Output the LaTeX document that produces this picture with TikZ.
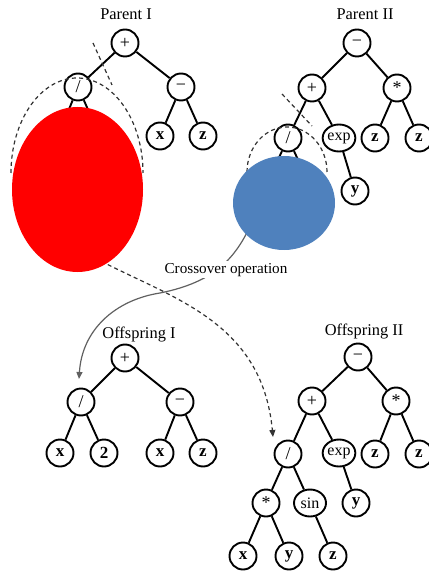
\documentclass[tikz,border=0pt]{standalone}
\usepackage{fontspec}
\setmainfont{Liberation Serif}
\usetikzlibrary{arrows.meta, shapes.geometric}

\definecolor{maskred}{RGB}{255,0,0}
\definecolor{maskblue}{RGB}{79,129,189}

\begin{document}
\begin{tikzpicture}[
  x=0.5pt, y=-0.5pt,
  every node/.style = {font=\fontsize{9}{10}\selectfont},
  op/.style = {
    circle,
    draw,
    line width=0.95pt,
    minimum size=13.5pt,
    inner sep=0pt
  },
  leaf/.style = {
    op,
    font=\fontsize{8.5}{10}\selectfont\bfseries
  },
  fn/.style = {
    ellipse,
    draw,
    line width=0.95pt,
    minimum height=13.5pt,
    minimum width=16pt,
    inner sep=0pt,
    font=\fontsize{8}{9.6}\selectfont
  },
  title/.style = {anchor=base, font=\fontsize{8.2}{10}\selectfont},
  edge/.style = {line width=0.95pt},
  cut/.style = {
    dash pattern=on 2pt off 1.6pt,
    line width=0.6pt,
    black!80
  },
  move/.style = {
    -{Triangle[length=3.5pt,width=3pt]},
    line width=0.6pt
  },
  mask/.style = {ellipse, inner sep=0pt}
]
\useasboundingbox (0,0) rectangle (428,571);

% parent I
\node[title] (t1) at (126,19.5) {Parent I};
\node[op] (p1r) at (125,43) {+};
\node[op] (p1a) at (78,87) {/};
\node[op] (p1b) at (181,87) {−};
\node[leaf] (p1c) at (160,136) {x};
\node[leaf] (p1d) at (203,136) {z};
\coordinate (p1h1) at (57,139);
\coordinate (p1h2) at (101,139);
\draw[edge] (p1r) -- (p1a);
\draw[edge] (p1r) -- (p1b);
\draw[edge] (p1b) -- (p1c);
\draw[edge] (p1b) -- (p1d);
\draw[edge] (p1a) -- (p1h1);
\draw[edge] (p1a) -- (p1h2);

% parent II
\node[title] (t2) at (365,19.5) {Parent II};
\node[op] (p2r) at (357,43) {−};
\node[op] (p2a) at (312,88) {+};
\node[op] (p2b) at (397,88) {*};
\node[op] (p2c) at (288,138) {/};
\node[fn] (p2d) at (339,138) {exp};
\node[leaf] (p2e) at (375,138) {z};
\node[leaf] (p2f) at (419,138) {z};
\node[leaf] (p2g) at (355,191) {y};
\coordinate (p2h1) at (265,188);
\coordinate (p2h2) at (311,188);
\draw[edge] (p2r) -- (p2a);
\draw[edge] (p2r) -- (p2b);
\draw[edge] (p2a) -- (p2c);
\draw[edge] (p2a) -- (p2d);
\draw[edge] (p2b) -- (p2e);
\draw[edge] (p2b) -- (p2f);
\draw[edge] (p2d) -- (p2g);
\draw[edge] (p2c) -- (p2h1);
\draw[edge] (p2c) -- (p2h2);

% offspring I
\node[title] (t3) at (139,338) {Offspring I};
\node[op] (o1r) at (125,358) {+};
\node[op] (o1a) at (81,402) {/};
\node[op] (o1b) at (180,402) {−};
\node[leaf] (o1c) at (60,453) {x};
\node[leaf] (o1d) at (104,453) {2};
\node[leaf] (o1e) at (160,453) {x};
\node[leaf] (o1f) at (203,453) {z};
\draw[edge] (o1r) -- (o1a);
\draw[edge] (o1r) -- (o1b);
\draw[edge] (o1a) -- (o1c);
\draw[edge] (o1a) -- (o1d);
\draw[edge] (o1b) -- (o1e);
\draw[edge] (o1b) -- (o1f);

% offspring II
\node[title] (t4) at (364,335) {Offspring II};
\node[op] (o2r) at (358,357) {−};
\node[op] (o2a) at (312,401) {+};
\node[op] (o2b) at (396,401) {*};
\node[op] (o2c) at (288,454) {/};
\node[fn] (o2d) at (339,453) {exp};
\node[leaf] (o2e) at (375,454) {z};
\node[leaf] (o2f) at (419,454) {z};
\node[op] (o2g) at (266,503) {*};
\node[fn] (o2h) at (310,503) {sin};
\node[leaf] (o2i) at (356,503) {y};
\node[leaf] (o2j) at (243,556) {x};
\node[leaf] (o2k) at (289,556) {y};
\node[leaf] (o2l) at (333,556) {z};
\draw[edge] (o2r) -- (o2a);
\draw[edge] (o2r) -- (o2b);
\draw[edge] (o2a) -- (o2c);
\draw[edge] (o2a) -- (o2d);
\draw[edge] (o2b) -- (o2e);
\draw[edge] (o2b) -- (o2f);
\draw[edge] (o2d) -- (o2i);
\draw[edge] (o2c) -- (o2g);
\draw[edge] (o2c) -- (o2h);
\draw[edge] (o2g) -- (o2j);
\draw[edge] (o2g) -- (o2k);
\draw[edge] (o2h) -- (o2l);

% cut marks
\coordinate (c1a) at (93,43);
\coordinate (c1b) at (112,85);
\coordinate (c2a) at (282,94);
\coordinate (c2b) at (312,126);
\draw[cut] (c1a) -- (c1b);
\draw[cut] (c2a) -- (c2b);
\draw[cut] (11,173) arc[start angle=180, end angle=0, x radius=33pt, y radius=47.5pt];
\draw[cut] (247,172) arc[start angle=180, end angle=0, x radius=20pt, y radius=22.5pt];

% swaps
\coordinate (sfrom) at (95,258);
\coordinate (sto) at (273,437);
\coordinate (cfrom) at (252,222);
\coordinate (cmid) at (160,293);
\coordinate (cto) at (79,379);
\draw[cut, move] (sfrom) .. controls (170,298) and (262,320) .. (sto);
\draw[move, gray!75!black] (cfrom) .. controls (236,258) and (215,282) .. (cmid)
  .. controls (115,300) and (82,330) .. (cto);
\node[title, fill=white, inner sep=1pt, font=\fontsize{7.6}{9}\selectfont] (xo) at (226,273) {Crossover operation};

% masks
\node[mask, fill=maskred, minimum width=65.5pt, minimum height=82.5pt] (m1) at (77.5,189.5) {};
\node[mask, fill=maskblue, minimum width=51pt, minimum height=47pt] (m2) at (284,203) {};

\end{tikzpicture}
\end{document}
